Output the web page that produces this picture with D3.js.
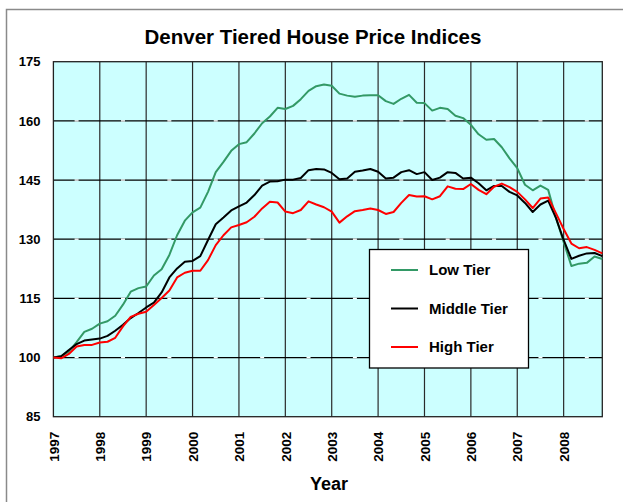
<!DOCTYPE html>
<html>
<head>
<meta charset="utf-8">
<script src="https://cdn.jsdelivr.net/npm/d3@7"></script>
<style>
  body { margin: 0; background: #fff; }
  text { font-family: Arial, "Liberation Sans", sans-serif; font-weight: bold; }
</style>
</head>
<body>
<script>
  // months since Jan 1997 (every second month)
  const months = [
    0, 2, 4, 6, 8, 10, 12, 14, 16, 18, 20, 22,
    24, 26, 28, 30, 32, 34, 36, 38, 40, 42, 44, 46,
    48, 50, 52, 54, 56, 58, 60, 62, 64, 66, 68, 70,
    72, 74, 76, 78, 80, 82, 84, 86, 88, 90, 92, 94,
    96, 98, 100, 102, 104, 106, 108, 110, 112, 114, 116, 118,
    120, 122, 124, 126, 128, 130, 132, 134, 136, 138, 140, 142
  ];

  const lowTier = [
    100.0, 100.3, 101.5, 103.9, 106.5, 107.3, 108.6, 109.2, 110.6, 113.4, 116.7, 117.6,
    118.0, 120.8, 122.4, 126.0, 131.0, 134.7, 136.8, 138.0, 142.0, 147.0, 149.6, 152.4,
    154.1, 154.6, 156.8, 159.4, 161.1, 163.3, 163.0, 163.8, 165.5, 167.6, 168.8, 169.2,
    168.9, 166.9, 166.4, 166.1, 166.4, 166.5, 166.5, 165.0, 164.3, 165.6, 166.6, 164.6,
    164.5, 162.6, 163.3, 163.0, 161.3, 160.7, 159.0, 156.6, 155.2, 155.4, 153.3, 150.5,
    148.0, 143.8, 142.4, 143.6, 142.5, 135.5, 129.3, 123.2, 123.8, 124.0, 125.6, 125.0
  ];

  const middleTier = [
    100.0, 100.3, 101.9, 103.4, 104.3, 104.6, 104.8, 105.5, 106.8, 108.3, 110.0, 111.3,
    112.7, 113.9, 116.5, 120.3, 122.6, 124.3, 124.5, 125.7, 129.8, 133.8, 135.5, 137.3,
    138.3, 139.3, 141.2, 143.6, 144.6, 144.7, 145.1, 145.1, 145.5, 147.5, 147.8, 147.7,
    146.8, 145.2, 145.4, 147.1, 147.4, 147.8, 147.1, 145.4, 145.6, 147.0, 147.5, 146.5,
    147.0, 145.0, 145.6, 147.0, 146.8, 145.4, 145.6, 144.2, 142.4, 143.5, 143.5, 142.0,
    141.1, 139.2, 136.9, 138.8, 139.8, 135.4, 129.8, 125.0, 125.8, 126.4, 126.5, 125.7
  ];

  const highTier = [
    100.0, 99.8, 100.9, 102.8, 103.2, 103.2, 103.8, 104.0, 105.0, 107.9, 110.3, 111.1,
    111.6, 113.3, 115.1, 117.0, 120.3, 121.5, 122.0, 122.0, 124.7, 128.5, 131.0, 133.0,
    133.6, 134.3, 135.7, 137.8, 139.5, 139.3, 137.0, 136.6, 137.4, 139.6, 138.8, 138.1,
    137.0, 134.2, 135.8, 137.1, 137.4, 137.8, 137.4, 136.4, 136.9, 139.2, 141.2, 140.8,
    140.9, 140.1, 140.9, 143.4, 142.8, 142.7, 144.0, 142.5, 141.4, 143.3, 144.1, 143.2,
    142.0, 140.1, 137.9, 140.3, 140.6, 136.6, 132.6, 128.9, 127.7, 128.0, 127.3, 126.4
  ];

  const yearLabels = ['1997', '1998', '1999', '2000', '2001', '2002',
    '2003', '2004', '2005', '2006', '2007', '2008'];
  const yTicks = [85, 100, 115, 130, 145, 160, 175];

  const seriesNames = ['Low Tier', 'Middle Tier', 'High Tier'];
  const seriesColors = ['#339966', '#000000', '#ff0000'];
  const seriesValues = [lowTier, middleTier, highTier];

  const width = 623;
  const height = 502;
  const plot = { left: 53.4, right: 602.3, top: 61.7, bottom: 416.7 };

  const svg = d3.select('body')
    .append('svg')
    .attr('width', width)
    .attr('height', height);

  // outer chart frame
  svg.append('rect')
    .attr('x', 6.5).attr('y', 9.5)
    .attr('width', 700).attr('height', 600)
    .attr('fill', '#fff')
    .attr('stroke', '#8a8a8a')
    .attr('stroke-width', 1.5);

  const x = d3.scaleLinear()
    .domain([0, 142])
    .range([plot.left, plot.right]);

  const y = d3.scaleLinear()
    .domain([85, 175])
    .range([plot.bottom, plot.top]);

  const yearPos = (label) => x((+label - 1997) * 12);

  // plot background
  svg.append('rect')
    .attr('x', plot.left).attr('y', plot.top)
    .attr('width', plot.right - plot.left)
    .attr('height', plot.bottom - plot.top)
    .attr('fill', '#ccffff');

  // vertical gridlines
  svg.append('g')
    .selectAll('line')
    .data(yearLabels.slice(1))
    .join('line')
    .attr('x1', (d) => yearPos(d)).attr('x2', (d) => yearPos(d))
    .attr('y1', plot.top).attr('y2', plot.bottom)
    .attr('stroke', '#2a2a2a')
    .attr('stroke-width', 1.2);

  // horizontal gridlines
  const inner = yTicks.slice(1, -1);
  svg.append('g')
    .selectAll('line')
    .data(inner)
    .join('line')
    .attr('x1', plot.left).attr('x2', plot.right)
    .attr('y1', (d) => y(d)).attr('y2', (d) => y(d))
    .attr('stroke', '#000')
    .attr('stroke-width', 1.2);

  // little white marks at mid-year on the gridlines
  const midYears = yearLabels.map((d) => (+d - 1997) * 12 + 6);
  inner.forEach((v) => {
    svg.append('g')
      .selectAll('line')
      .data(midYears)
      .join('line')
      .attr('x1', (d) => x(d) - 2).attr('x2', (d) => x(d) + 2)
      .attr('y1', y(v)).attr('y2', y(v))
      .attr('stroke', '#fff')
      .attr('stroke-width', 1.4);
  });

  // plot border
  svg.append('rect')
    .attr('x', plot.left).attr('y', plot.top)
    .attr('width', plot.right - plot.left)
    .attr('height', plot.bottom - plot.top)
    .attr('fill', 'none')
    .attr('stroke', '#222')
    .attr('stroke-width', 1.3);

  // y axis labels
  const yAxis = svg.append('g')
    .attr('transform', `translate(${plot.left},0)`)
    .call(d3.axisLeft(y).tickValues(yTicks).tickSize(0).tickPadding(13));
  yAxis.select('.domain').remove();
  yAxis.selectAll('text')
    .attr('font-size', 13)
    .attr('font-family', 'Arial, "Liberation Sans", sans-serif')
    .attr('font-weight', 'bold')
    .attr('fill', '#000');

  // x axis labels, rotated
  const xAxis = svg.append('g')
    .attr('transform', `translate(0,${plot.bottom})`)
    .call(d3.axisBottom(x)
      .tickValues(yearLabels.map((d) => (+d - 1997) * 12))
      .tickFormat((d, i) => yearLabels[i])
      .tickSize(0));
  xAxis.select('.domain').remove();
  xAxis.selectAll('text')
    .attr('font-size', 13.5)
    .attr('font-family', 'Arial, "Liberation Sans", sans-serif')
    .attr('font-weight', 'bold')
    .attr('fill', '#000')
    .attr('text-anchor', 'end')
    .attr('dy', '0.35em')
    .attr('y', 0)
    .attr('transform', 'translate(0,15) rotate(-90)');

  // lines
  const line = d3.line()
    .x((d, i) => x(months[i]))
    .y((d) => y(d));

  svg.append('g')
    .selectAll('path')
    .data(seriesValues)
    .join('path')
    .attr('d', (d) => line(d))
    .attr('fill', 'none')
    .attr('stroke', (d, i) => seriesColors[i])
    .attr('stroke-width', 2)
    .attr('stroke-linejoin', 'round');

  // title
  svg.append('text')
    .attr('x', 313)
    .attr('y', 44)
    .attr('text-anchor', 'middle')
    .attr('font-size', 20.5)
    .text('Denver Tiered House Price Indices');

  svg.append('text')
    .attr('x', 329)
    .attr('y', 490)
    .attr('text-anchor', 'middle')
    .attr('font-size', 18)
    .text('Year');

  // legend
  const legend = svg.append('g');
  legend.append('rect')
    .attr('x', 369.5).attr('y', 249.5)
    .attr('width', 159).attr('height', 118.5)
    .attr('fill', '#fff')
    .attr('stroke', '#000')
    .attr('stroke-width', 1.3);

  const items = legend.selectAll('g')
    .data(seriesNames)
    .join('g')
    .attr('transform', (d, i) => `translate(391,${270 + i * 38.5})`);
  items.append('line')
    .attr('x1', 0).attr('x2', 27)
    .attr('stroke', (d, i) => seriesColors[i])
    .attr('stroke-width', 2);
  items.append('text')
    .attr('x', 38)
    .attr('dy', '0.36em')
    .attr('font-size', 15)
    .text((d) => d);
</script>
</body>
</html>
